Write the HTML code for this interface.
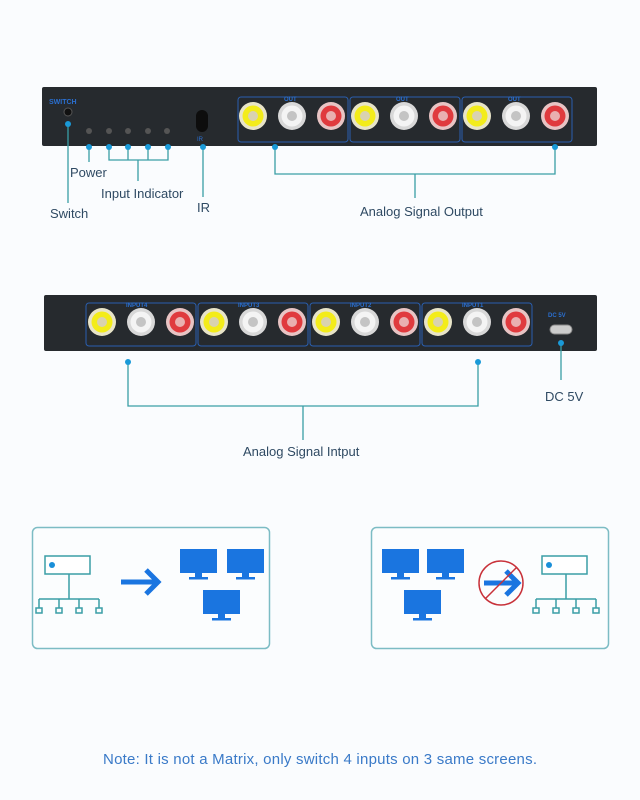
<!DOCTYPE html><html><head><style>body{margin:0;background:#fafcfe}svg{display:block}</style></head><body>
<svg width="640" height="800" viewBox="0 0 640 800" font-family="Liberation Sans, sans-serif">
<defs>
<g id="y"><circle r="14" fill="#e8e4c8"/><circle r="10.5" fill="#f3ec1a"/><circle r="5" fill="#d9d2b0"/></g>
<g id="w"><circle r="14" fill="#d8d8d8"/><circle r="10.5" fill="#f4f4f4"/><circle r="5" fill="#c4c4c4"/></g>
<g id="r"><circle r="14" fill="#e8c4c4"/><circle r="10.5" fill="#e03a3e"/><circle r="5" fill="#e9b0b0"/></g>
<g id="mon" fill="#1a75e0"><rect x="0" y="0" width="37" height="24"/><rect x="15" y="24" width="7" height="4"/><rect x="9" y="28" width="19" height="2.5"/></g>
<g id="net" stroke="#3a9ea6" stroke-width="1.5" fill="none"><rect x="0" y="0" width="45" height="18" fill="#fff"/><circle cx="7" cy="9" r="3" fill="#1a8fd8" stroke="none"/><path d="M24 18V43M-6 43H54M-6 43V52M14 43V52M34 43V52M54 43V52"/><rect x="-9" y="52" width="6" height="5"/><rect x="11" y="52" width="6" height="5"/><rect x="31" y="52" width="6" height="5"/><rect x="51" y="52" width="6" height="5"/></g>
</defs>
<rect width="640" height="800" fill="#fafcfe"/>
<rect x="42" y="87" width="555" height="59" rx="2" fill="#262a2e"/>
<text x="49" y="104" font-size="7" fill="#2a6fd0" font-weight="bold">SWITCH</text>
<circle cx="68" cy="112" r="4" fill="#111" stroke="#555"/>
<g fill="#555"><circle cx="89" cy="131" r="3"/><circle cx="109" cy="131" r="3"/><circle cx="128" cy="131" r="3"/><circle cx="148" cy="131" r="3"/><circle cx="167" cy="131" r="3"/></g>
<rect x="196" y="110" width="12" height="22" rx="6" fill="#0d0d0d"/>
<text x="197" y="141" font-size="6" fill="#2a6fd0">IR</text>
<g fill="none" stroke="#2a5fb0" stroke-width="1"><rect x="238" y="97" width="110" height="45" rx="3"/><rect x="350" y="97" width="110" height="45" rx="3"/><rect x="462" y="97" width="110" height="45" rx="3"/></g>
<g font-size="6" fill="#2a6fd0" font-weight="bold"><text x="284" y="101">OUT</text><text x="396" y="101">OUT</text><text x="508" y="101">OUT</text></g>
<use href="#y" x="253" y="116"/><use href="#w" x="292" y="116"/><use href="#r" x="331" y="116"/>
<use href="#y" x="365" y="116"/><use href="#w" x="404" y="116"/><use href="#r" x="443" y="116"/>
<use href="#y" x="477" y="116"/><use href="#w" x="516" y="116"/><use href="#r" x="555" y="116"/>
<rect x="44" y="295" width="553" height="56" rx="2" fill="#262a2e"/>
<g fill="none" stroke="#2a5fb0"><rect x="86" y="303" width="110" height="43" rx="3"/><rect x="198" y="303" width="110" height="43" rx="3"/><rect x="310" y="303" width="110" height="43" rx="3"/><rect x="422" y="303" width="110" height="43" rx="3"/></g>
<g font-size="6" fill="#2a6fd0" font-weight="bold"><text x="126" y="307">INPUT4</text><text x="238" y="307">INPUT3</text><text x="350" y="307">INPUT2</text><text x="462" y="307">INPUT1</text><text x="548" y="317">DC 5V</text></g>
<use href="#y" x="102" y="322"/><use href="#w" x="141" y="322"/><use href="#r" x="180" y="322"/>
<use href="#y" x="214" y="322"/><use href="#w" x="253" y="322"/><use href="#r" x="292" y="322"/>
<use href="#y" x="326" y="322"/><use href="#w" x="365" y="322"/><use href="#r" x="404" y="322"/>
<use href="#y" x="438" y="322"/><use href="#w" x="477" y="322"/><use href="#r" x="516" y="322"/>
<rect x="550" y="325" width="22" height="9" rx="4.5" fill="#ccc" stroke="#888"/>
<g stroke="#3a9ea6" stroke-width="1.3" fill="none">
<path d="M68 124V203M89 147V162M109 147V160H168V147M128 147V160M148 147V160M138 160V181M203 147V197M275 147V174H555V147M415 174V198M128 362V406H478V362M303 406V440M561 343V380"/>
</g>
<g fill="#1a9ad8"><circle cx="68" cy="124" r="3"/><circle cx="89" cy="147" r="3"/><circle cx="109" cy="147" r="3"/><circle cx="128" cy="147" r="3"/><circle cx="148" cy="147" r="3"/><circle cx="168" cy="147" r="3"/><circle cx="203" cy="147" r="3"/><circle cx="275" cy="147" r="3"/><circle cx="555" cy="147" r="3"/><circle cx="128" cy="362" r="3"/><circle cx="478" cy="362" r="3"/><circle cx="561" cy="343" r="3"/></g>
<g font-size="13" fill="#2f4a63"><text x="70" y="177">Power</text><text x="101" y="198">Input Indicator</text><text x="50" y="218">Switch</text><text x="197" y="212">IR</text><text x="360" y="216">Analog Signal Output</text><text x="243" y="456">Analog Signal Intput</text><text x="545" y="401">DC 5V</text></g>
<rect x="32.5" y="527.5" width="237" height="121" rx="5" fill="#fbfdfe" stroke="#7cbcc4" stroke-width="1.5"/>
<rect x="371.5" y="527.5" width="237" height="121" rx="5" fill="#fbfdfe" stroke="#7cbcc4" stroke-width="1.5"/>
<use href="#net" x="45" y="556"/>
<path d="M121 582H156M146 570L158 582L146 594" stroke="#1a75e0" stroke-width="5" fill="none"/>
<use href="#mon" x="180" y="549"/><use href="#mon" x="227" y="549"/><use href="#mon" x="203" y="590"/>
<use href="#mon" x="382" y="549"/><use href="#mon" x="427" y="549"/><use href="#mon" x="404" y="590"/>
<path d="M484 583H516M506 571L518 583L506 595" stroke="#1a75e0" stroke-width="5" fill="none"/>
<circle cx="501" cy="583" r="22" fill="none" stroke="#c8323a" stroke-width="1.5"/>
<path d="M485 599L517 567" stroke="#c8323a" stroke-width="1.5"/>
<use href="#net" x="542" y="556"/>
<text x="320" y="764" font-size="15" fill="#3a7ac8" text-anchor="middle" textLength="434" lengthAdjust="spacing">Note: It is not a Matrix, only switch 4 inputs on 3 same screens.</text>
</svg></body></html>
